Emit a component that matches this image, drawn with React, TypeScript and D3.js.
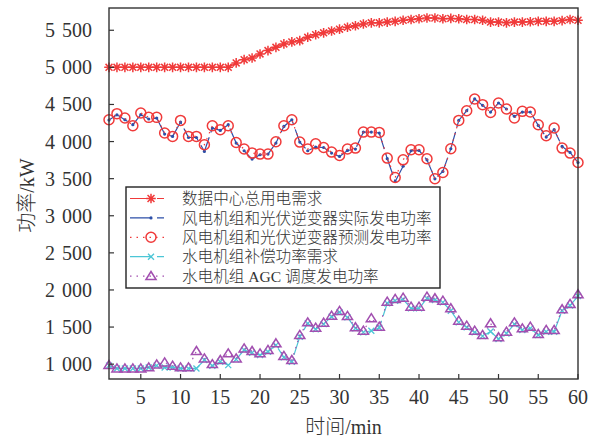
import React from 'react';
import * as d3 from 'd3';

// minutes 1..60
const minutes = d3.range(1, 61);

const demand = [
  5000, 5000, 5000, 5000, 5000, 5000, 5000, 5000, 5000, 5000, 5000, 5000, 5000, 5000, 5000, 5000,
  5060, 5104, 5127, 5181, 5226, 5270, 5316, 5343, 5360, 5405, 5440, 5465, 5490, 5515, 5540, 5560,
  5585, 5600, 5600, 5610, 5620, 5635, 5645, 5655, 5665, 5665, 5655, 5660, 5655, 5645, 5645, 5635,
  5610, 5610, 5600, 5610, 5610, 5615, 5620, 5620, 5620, 5630, 5645, 5635,
];

const actual = [
  4290, 4360, 4294, 4227, 4362, 4304, 4317, 4101, 4069, 4263, 4055, 4055, 3867, 4182, 4150, 4227,
  3980, 3876, 3764, 3822, 3831, 3980, 4204, 4294, 3993, 3876, 3926, 3920, 3845, 3799, 3880, 3899,
  4128, 4128, 4115, 3770, 3462, 3667, 3876, 3880, 3754, 3498, 3597, 3903, 4285, 4416, 4574, 4488,
  4398, 4520, 4439, 4340, 4398, 4398, 4218, 4061, 4160, 3934, 3853, 3718,
];

const forecast = [
  4294, 4376, 4317, 4213, 4385, 4326, 4326, 4115, 4069, 4285, 4069, 4069, 3957, 4213, 4160, 4213,
  3988, 3899, 3845, 3831, 3831, 3997, 4213, 4294, 3993, 3899, 3970, 3920, 3858, 3813, 3899, 3912,
  4128, 4128, 4123, 3777, 3516, 3754, 3890, 3890, 3768, 3498, 3583, 3903, 4285, 4416, 4574, 4497,
  4393, 4520, 4439, 4317, 4407, 4398, 4227, 4079, 4182, 3912, 3845, 3718,
];

const compensation = [
  980, 942, 942, 942, 942, 956, 980, 956, 956, 942, 942, 942, 1055, 978, 1032, 987,
  1064, 1190, 1154, 1122, 1167, 1257, 1091, 1032, 1370, 1550, 1470, 1540, 1640, 1700, 1630, 1482,
  1428, 1450, 1490, 1820, 1855, 1873, 1752, 1752, 1887, 1864, 1833, 1720, 1563, 1496, 1428, 1378,
  1440, 1340, 1414, 1540, 1460, 1482, 1392, 1437, 1437, 1720, 1790, 1918,
];

const agc = [
  987, 942, 942, 942, 942, 956, 996, 1023, 978, 956, 956, 1176, 1077, 1000, 1055, 1145,
  1077, 1212, 1176, 1145, 1190, 1280, 1109, 1055, 1392, 1563, 1491, 1558, 1653, 1716, 1649, 1496,
  1450, 1618, 1504, 1842, 1878, 1896, 1774, 1774, 1909, 1887, 1855, 1752, 1585, 1518, 1450, 1392,
  1550, 1361, 1437, 1563, 1482, 1504, 1406, 1460, 1460, 1739, 1810, 1941,
];

const xTicks = [5, 10, 15, 20, 25, 30, 35, 40, 45, 50, 55, 60];
const yTicks = [1000, 1500, 2000, 2500, 3000, 3500, 4000, 4500, 5000, 5500];

const legendLabels = [
  '数据中心总用电需求',
  '风电机组和光伏逆变器实际发电功率',
  '风电机组和光伏逆变器预测发电功率',
  '水电机组补偿功率需求',
  '水电机组 AGC 调度发电功率',
];

const RED = '#f03a3a';
const BLUE = '#2c4fa8';
const CYAN = '#4cc6d6';
const PURPLE = '#a24fb0';
const FRAME = '#333';
const TEXT = '#333';

const serif = '"Liberation Serif", "DejaVu Serif", "Noto Sans CJK SC", serif';

type Kind = 'star' | 'dot' | 'circle' | 'cross' | 'tri';

const Marker: React.FC<{ kind: Kind; x: number; y: number; color: string }> = ({ kind, x, y, color }) => {
  if (kind === 'star') {
    const r = 4.8, d = r * 0.72;
    return (
      <path
        d={`M${x - r},${y}H${x + r}M${x},${y - r}V${y + r}M${x - d},${y - d}L${x + d},${y + d}M${x - d},${y + d}L${x + d},${y - d}`}
        stroke={color} strokeWidth={1.5} fill="none" />
    );
  }
  if (kind === 'dot') return <circle cx={x} cy={y} r={1.6} fill={color} />;
  if (kind === 'circle') return <circle cx={x} cy={y} r={5} fill="none" stroke={color} strokeWidth={1.5} />;
  if (kind === 'cross') {
    const r = 3;
    return (
      <path d={`M${x - r},${y - r}L${x + r},${y + r}M${x - r},${y + r}L${x + r},${y - r}`}
        stroke={color} strokeWidth={1.3} fill="none" />
    );
  }
  const h = 4.6;
  return (
    <path d={`M${x},${y - h}L${x + h * 1.1},${y + h * 0.75}L${x - h * 1.1},${y + h * 0.75}Z`}
      fill="none" stroke={color} strokeWidth={1.5} strokeLinejoin="miter" />
  );
};

const series: { values: number[]; color: string; dash: string; kind: Kind }[] = [
  { values: demand, color: RED, dash: '22 5', kind: 'star' },
  { values: actual, color: BLUE, dash: '22 5', kind: 'dot' },
  { values: forecast, color: RED, dash: '1.5 5', kind: 'circle' },
  { values: compensation, color: CYAN, dash: '22 5', kind: 'cross' },
  { values: agc, color: PURPLE, dash: '1.5 5', kind: 'tri' },
];

const App: React.FC = () => {
  const width = 608;
  const height = 439;
  const left = 109, right = 578, top = 8, bottom = 379;

  const x = d3.scaleLinear().domain([1, 60]).range([left, right]);
  const y = d3.scaleLinear().domain([800, 5800]).range([bottom, top]);

  const line = d3.line<number>()
    .x((_, i) => x(minutes[i]))
    .y(d => y(d));

  const fmt = (v: number) => d3.format(',')(v).replace(',', ' ');

  const lgX = 126, lgY = 187, lgW = 314, lgH = 101;
  const rowY = (i: number) => 198.5 + i * 19.4;

  return (
    <svg width={width} height={height} style={{ position: 'absolute', left: 0, top: 0, background: '#fff' }}>
      {/* data */}
      {series.map((s, k) => (
        <g key={k}>
          <path d={line(s.values) ?? ''} fill="none" stroke={s.color} strokeWidth={1.2} strokeDasharray={s.dash} />
          {s.values.map((v, i) => (
            <Marker key={i} kind={s.kind} x={x(minutes[i])} y={y(v)} color={s.color} />
          ))}
        </g>
      ))}

      {/* frame */}
      <rect x={left} y={top} width={right - left} height={bottom - top} fill="none" stroke={FRAME} strokeWidth={1.4} />

      {/* y axis */}
      {yTicks.map(t => (
        <g key={t}>
          <line x1={left} x2={left + 5} y1={y(t)} y2={y(t)} stroke={FRAME} strokeWidth={1.2} />
          <text x={92} y={y(t)} dy="0.35em" textAnchor="end" fontFamily={serif} fontSize={20} fill={TEXT}
            style={{ wordSpacing: '2px' }}>
            {fmt(t)}
          </text>
        </g>
      ))}

      {/* x axis */}
      {xTicks.map(t => (
        <g key={t}>
          <line x1={x(t)} x2={x(t)} y1={bottom} y2={bottom - 5} stroke={FRAME} strokeWidth={1.2} />
          <text x={x(t)} y={404} textAnchor="middle" fontFamily={serif} fontSize={20} fill={TEXT}>{t}</text>
        </g>
      ))}

      {/* axis titles */}
      <text x={(left + right) / 2} y={434} textAnchor="middle" fontFamily={serif} fontSize={20} fontWeight={300} fill={TEXT}>时间/min</text>
      <text transform={`translate(34,${(top + bottom) / 2 + 2}) rotate(-90)`} textAnchor="middle"
        fontFamily={serif} fontSize={20} fontWeight={300} fill={TEXT}>功率/kW</text>

      {/* legend */}
      <rect x={lgX} y={lgY} width={lgW} height={lgH} fill="#fff" stroke="#222" strokeWidth={1.4} />
      {series.map((s, i) => (
        <g key={i}>
          <line x1={130} x2={164} y1={rowY(i)} y2={rowY(i)} stroke={s.color} strokeWidth={1.2} strokeDasharray={s.dash} />
          <Marker kind={s.kind} x={151} y={rowY(i)} color={s.color} />
          <text x={182} y={rowY(i)} dy="0.36em" fontFamily={serif} fontSize={15.6} fontWeight={300} fill={TEXT}>{legendLabels[i]}</text>
        </g>
      ))}
    </svg>
  );
};

export default App;
